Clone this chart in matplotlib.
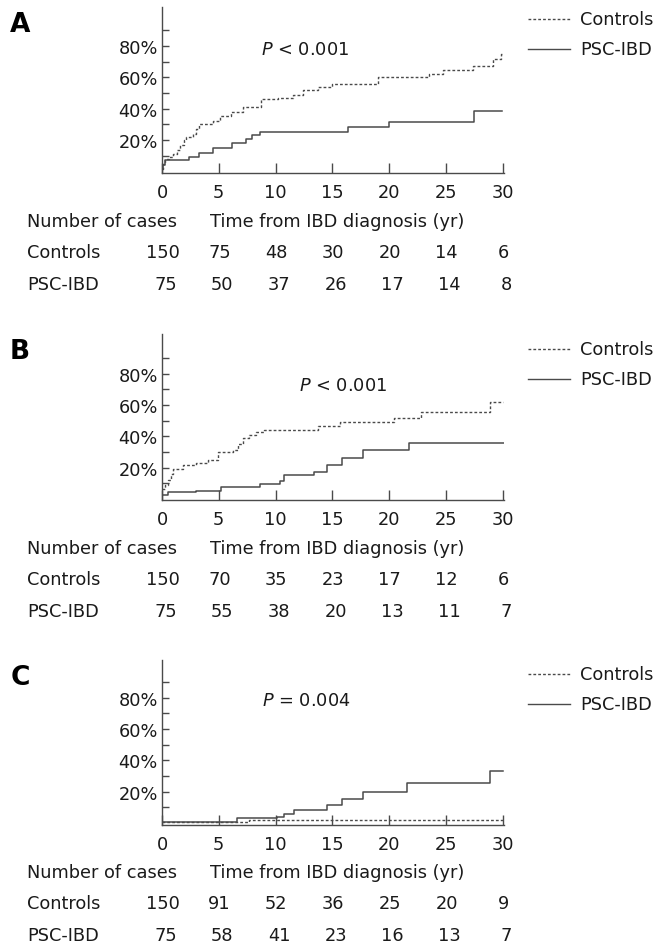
import matplotlib
matplotlib.use("Agg")
import matplotlib.pyplot as plt
import matplotlib.transforms as mtransforms
from matplotlib.lines import Line2D

plt.rcParams['font.family'] = ['DejaVu Sans']
plt.rcParams['mathtext.fontset'] = 'dejavusans'

# cumulative incidence curves (time in years, value in %)
a_ctrl_t = [0, 0.1, 0.25, 0.6, 1.0, 1.3, 1.6, 1.9, 2.1, 2.7, 3.0, 3.3, 4.5, 5.1, 6.1, 7.1,
            8.7, 10.2, 11.5, 12.4, 13.7, 15.0, 19.0, 23.5, 24.7, 27.4, 29.1, 29.8, 30.0]
a_ctrl_v = [1.5, 5, 8, 9, 11, 14, 17, 20, 22, 24, 27, 30, 32, 35.5, 38, 41,
            46, 47, 49, 52, 54, 56, 60, 62, 65, 67.5, 72, 75, 75]
a_psc_t = [0, 0.1, 0.25, 2.4, 3.3, 4.5, 6.2, 7.4, 7.9, 8.6, 16.4, 20.0, 27.5, 29.9]
a_psc_v = [1.5, 4, 7, 9.5, 12, 15, 18, 20.5, 23.4, 25.3, 28.3, 31.7, 38.7, 38.7]

b_ctrl_t = [0, 0.3, 0.5, 0.8, 1.0, 1.85, 3.0, 4.05, 4.9, 6.25, 6.7, 7.1, 7.7, 8.3, 9.0,
            13.7, 15.7, 20.4, 22.8, 28.9, 30.0]
b_ctrl_v = [6.7, 9, 12, 16, 19, 21.5, 23, 25, 30, 31, 35, 39, 41, 43, 44,
            46.7, 49, 52, 55.8, 62, 62]
b_psc_t = [0, 0.5, 3.0, 5.2, 8.6, 10.4, 10.7, 13.4, 14.5, 15.8, 17.7, 21.7, 30.1]
b_psc_v = [2.5, 4.2, 5.3, 7.4, 9.5, 11.6, 15.2, 17.3, 21.5, 26, 31, 35.8, 35.8]

c_ctrl_t = [0, 7.7, 30.0]
c_ctrl_v = [0.3, 2.1, 2.1]
c_psc_t = [0, 6.6, 10.1, 10.7, 11.6, 14.5, 15.8, 17.7, 21.6, 28.9, 30.0]
c_psc_v = [0.8, 3, 3.6, 5.5, 8.3, 11.5, 15.5, 20, 25.3, 33.4, 33.4]

p_texts = ["$P$ < 0.001", "$P$ < 0.001", "$P$ = 0.004"]
panel_letters = ["A", "B", "C"]

year_ticks = [0, 5, 10, 15, 20, 25, 30]
a_ctrl_n = [150, 75, 48, 30, 20, 14, 6]
a_psc_n = [75, 50, 37, 26, 17, 14, 8]
b_ctrl_n = [150, 70, 35, 23, 17, 12, 6]
b_psc_n = [75, 55, 38, 20, 13, 11, 7]
c_ctrl_n = [150, 91, 52, 36, 25, 20, 9]
c_psc_n = [75, 58, 41, 23, 16, 13, 7]

W, H = 666, 953
fig = plt.figure(figsize=(W / 100, H / 100), dpi=100)

line_col = '#4a4a4a'
txt_col = '#1a1a1a'
fs = 12.8

panels = [
    dict(top=8, bottom=174, ylim=(-1, 105), ctrl=(a_ctrl_t, a_ctrl_v), psc=(a_psc_t, a_psc_v),
         n=(a_ctrl_n, a_psc_n), p_xy=(305, 50), leg_y=(20, 50), rows=(190, 222, 253, 285)),
    dict(top=335, bottom=501, ylim=(-0.6, 105.3), ctrl=(b_ctrl_t, b_ctrl_v), psc=(b_psc_t, b_psc_v),
         n=(b_ctrl_n, b_psc_n), p_xy=(343, 386), leg_y=(350, 380), rows=(519, 549, 580, 612)),
    dict(top=661, bottom=826, ylim=(-1.3, 104), ctrl=(c_ctrl_t, c_ctrl_v), psc=(c_psc_t, c_psc_v),
         n=(c_ctrl_n, c_psc_n), p_xy=(306, 701), leg_y=(675, 705), rows=(843, 873, 904, 936)),
]

x0, x1 = 162, 504
for i, p in enumerate(panels):
    ax = fig.add_axes([x0 / W, 1 - p['bottom'] / H, (x1 - x0) / W, (p['bottom'] - p['top']) / H])
    ax.step(p['ctrl'][0], p['ctrl'][1], where='post', color=line_col, lw=1.0,
            linestyle=(0, (2, 1.5)))
    ax.step(p['psc'][0], p['psc'][1], where='post', color=line_col, lw=1.1)
    ax.set_xlim(0, 30.1)
    ax.set_ylim(*p['ylim'])
    for s in ['top', 'right']:
        ax.spines[s].set_visible(False)
    for s in ['left', 'bottom']:
        ax.spines[s].set_color(line_col)
        ax.spines[s].set_linewidth(1.0)
    ax.set_yticks([20, 40, 60, 80])
    ax.set_yticklabels(['20%', '40%', '60%', '80%'])
    ax.set_yticks([10, 30, 50, 70, 90], minor=True)
    ax.set_xticks(year_ticks)
    ax.tick_params(axis='y', which='both', direction='in', length=5, width=1, color=line_col,
                   labelsize=fs, labelcolor=txt_col, pad=3)
    ax.tick_params(axis='x', direction='in', length=7, width=1, color=line_col,
                   labelsize=fs, labelcolor=txt_col, pad=7)

    fig.text(20 / W, 1 - (p['top'] + 17) / H, panel_letters[i], fontsize=19, fontweight='bold',
             ha='center', va='center', color='black')
    fig.text(p['p_xy'][0] / W, 1 - p['p_xy'][1] / H, p_texts[i], fontsize=fs,
             ha='center', va='center', color=txt_col)

    # legend
    for j, (lab, ls) in enumerate([('Controls', (0, (2, 1.5))), ('PSC-IBD', '-')]):
        yy = 1 - p['leg_y'][j] / H
        fig.add_artist(Line2D([528 / W, 570 / W], [yy, yy], color=line_col, lw=1.0, linestyle=ls))
        fig.text(580 / W, yy, lab, fontsize=fs, ha='left', va='center', color=txt_col)

    # number at risk table
    trans = mtransforms.blended_transform_factory(ax.transData, fig.transFigure)
    r = p['rows']
    fig.text(27 / W, 1 - r[1] / H, 'Number of cases', fontsize=fs, ha='left', va='center', color=txt_col)
    fig.text(210 / W, 1 - r[1] / H, 'Time from IBD diagnosis (yr)', fontsize=fs, ha='left',
             va='center', color=txt_col)
    fig.text(27 / W, 1 - r[2] / H, 'Controls', fontsize=fs, ha='left', va='center', color=txt_col)
    fig.text(27 / W, 1 - r[3] / H, 'PSC-IBD', fontsize=fs, ha='left', va='center', color=txt_col)
    for t, nc, npsc in zip(year_ticks, p['n'][0], p['n'][1]):
        ax.text(t + 0.05, 1 - r[2] / H, str(nc), transform=trans, fontsize=fs, ha='center',
                va='center', color=txt_col)
        ax.text(t + 0.3, 1 - r[3] / H, str(npsc), transform=trans, fontsize=fs, ha='center',
                va='center', color=txt_col)

fig.savefig('out.png', dpi=100, facecolor='white')
